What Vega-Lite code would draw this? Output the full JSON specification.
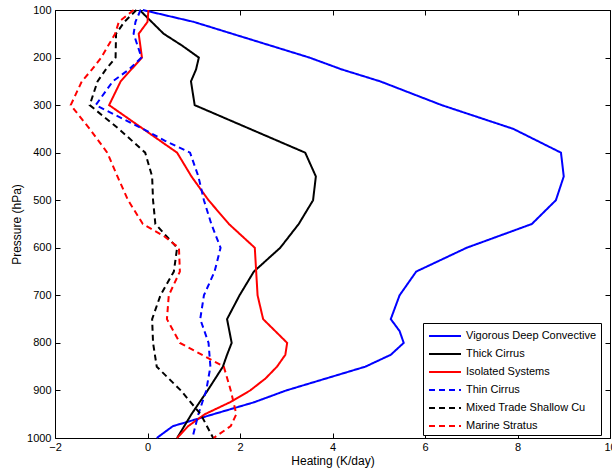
{
  "$schema": "https://vega.github.io/schema/vega-lite/v6.json",
  "width": 555,
  "height": 428,
  "autosize": {"type": "none"},
  "padding": {"left": 55, "top": 10, "right": 2, "bottom": 32},
  "config": {
    "font": "Liberation Sans",
    "view": {"stroke": "black", "strokeWidth": 1},
    "axis": {
      "grid": false,
      "domain": false,
      "tickColor": "black",
      "tickSize": -5,
      "labelFlush": false,
      "labelOverlap": false,
      "labelColor": "black",
      "labelFontSize": 11,
      "labelFont": "Liberation Sans",
      "titleFont": "Liberation Sans",
      "titleFontSize": 12,
      "titleFontWeight": "normal",
      "titleColor": "black"
    },
    "legend": {
      "orient": "none",
      "legendX": 368,
      "legendY": 313,
      "strokeColor": "black",
      "fillColor": "white",
      "padding": 4,
      "cornerRadius": 0,
      "symbolType": "M-2,0H2",
      "symbolSize": 256,
      "symbolOffset": 9,
      "symbolStrokeWidth": 2,
      "labelFont": "Liberation Sans",
      "labelFontSize": 11,
      "labelColor": "black",
      "labelOffset": 12,
      "rowPadding": 4
    }
  },
  "data": {
    "values": [
      {"s": "Vigorous Deep Convective", "p": 100, "h": -0.1},
      {"s": "Vigorous Deep Convective", "p": 125, "h": 1.0},
      {"s": "Vigorous Deep Convective", "p": 200, "h": 3.5},
      {"s": "Vigorous Deep Convective", "p": 225, "h": 4.2},
      {"s": "Vigorous Deep Convective", "p": 250, "h": 5.03},
      {"s": "Vigorous Deep Convective", "p": 300, "h": 6.36},
      {"s": "Vigorous Deep Convective", "p": 350, "h": 7.91},
      {"s": "Vigorous Deep Convective", "p": 400, "h": 8.94},
      {"s": "Vigorous Deep Convective", "p": 450, "h": 9.0},
      {"s": "Vigorous Deep Convective", "p": 500, "h": 8.83},
      {"s": "Vigorous Deep Convective", "p": 550, "h": 8.31},
      {"s": "Vigorous Deep Convective", "p": 600, "h": 6.9},
      {"s": "Vigorous Deep Convective", "p": 650, "h": 5.81},
      {"s": "Vigorous Deep Convective", "p": 700, "h": 5.45},
      {"s": "Vigorous Deep Convective", "p": 750, "h": 5.26},
      {"s": "Vigorous Deep Convective", "p": 775, "h": 5.45},
      {"s": "Vigorous Deep Convective", "p": 800, "h": 5.54},
      {"s": "Vigorous Deep Convective", "p": 825, "h": 5.26},
      {"s": "Vigorous Deep Convective", "p": 850, "h": 4.71},
      {"s": "Vigorous Deep Convective", "p": 900, "h": 3.0},
      {"s": "Vigorous Deep Convective", "p": 925, "h": 2.3},
      {"s": "Vigorous Deep Convective", "p": 975, "h": 0.55},
      {"s": "Vigorous Deep Convective", "p": 1000, "h": 0.2},

      {"s": "Thick Cirrus", "p": 100, "h": -0.17},
      {"s": "Thick Cirrus", "p": 150, "h": 0.35},
      {"s": "Thick Cirrus", "p": 175, "h": 0.75},
      {"s": "Thick Cirrus", "p": 200, "h": 1.11},
      {"s": "Thick Cirrus", "p": 225, "h": 1.05},
      {"s": "Thick Cirrus", "p": 250, "h": 0.94},
      {"s": "Thick Cirrus", "p": 300, "h": 1.02},
      {"s": "Thick Cirrus", "p": 400, "h": 3.41},
      {"s": "Thick Cirrus", "p": 450, "h": 3.64},
      {"s": "Thick Cirrus", "p": 500, "h": 3.58},
      {"s": "Thick Cirrus", "p": 550, "h": 3.27},
      {"s": "Thick Cirrus", "p": 600, "h": 2.87},
      {"s": "Thick Cirrus", "p": 650, "h": 2.3},
      {"s": "Thick Cirrus", "p": 700, "h": 1.99},
      {"s": "Thick Cirrus", "p": 750, "h": 1.72},
      {"s": "Thick Cirrus", "p": 800, "h": 1.82},
      {"s": "Thick Cirrus", "p": 825, "h": 1.72},
      {"s": "Thick Cirrus", "p": 850, "h": 1.63},
      {"s": "Thick Cirrus", "p": 900, "h": 1.3},
      {"s": "Thick Cirrus", "p": 950, "h": 0.95},
      {"s": "Thick Cirrus", "p": 1000, "h": 0.64},

      {"s": "Isolated Systems", "p": 100, "h": 0.02},
      {"s": "Isolated Systems", "p": 125, "h": 0.0},
      {"s": "Isolated Systems", "p": 150, "h": -0.19},
      {"s": "Isolated Systems", "p": 200, "h": -0.12},
      {"s": "Isolated Systems", "p": 250, "h": -0.58},
      {"s": "Isolated Systems", "p": 300, "h": -0.83},
      {"s": "Isolated Systems", "p": 400, "h": 0.64},
      {"s": "Isolated Systems", "p": 450, "h": 0.95},
      {"s": "Isolated Systems", "p": 500, "h": 1.32},
      {"s": "Isolated Systems", "p": 550, "h": 1.76},
      {"s": "Isolated Systems", "p": 600, "h": 2.32},
      {"s": "Isolated Systems", "p": 700, "h": 2.38},
      {"s": "Isolated Systems", "p": 750, "h": 2.5},
      {"s": "Isolated Systems", "p": 800, "h": 3.02},
      {"s": "Isolated Systems", "p": 825, "h": 2.98},
      {"s": "Isolated Systems", "p": 850, "h": 2.8},
      {"s": "Isolated Systems", "p": 875, "h": 2.55},
      {"s": "Isolated Systems", "p": 900, "h": 2.22},
      {"s": "Isolated Systems", "p": 925, "h": 1.78},
      {"s": "Isolated Systems", "p": 950, "h": 1.24},
      {"s": "Isolated Systems", "p": 975, "h": 0.88},
      {"s": "Isolated Systems", "p": 1000, "h": 0.64},

      {"s": "Thin Cirrus", "p": 100, "h": -0.15},
      {"s": "Thin Cirrus", "p": 125, "h": -0.26},
      {"s": "Thin Cirrus", "p": 150, "h": -0.3},
      {"s": "Thin Cirrus", "p": 200, "h": -0.13},
      {"s": "Thin Cirrus", "p": 225, "h": -0.4},
      {"s": "Thin Cirrus", "p": 250, "h": -0.75},
      {"s": "Thin Cirrus", "p": 300, "h": -1.12},
      {"s": "Thin Cirrus", "p": 350, "h": -0.1},
      {"s": "Thin Cirrus", "p": 375, "h": 0.38},
      {"s": "Thin Cirrus", "p": 400, "h": 0.92},
      {"s": "Thin Cirrus", "p": 450, "h": 1.1},
      {"s": "Thin Cirrus", "p": 500, "h": 1.22},
      {"s": "Thin Cirrus", "p": 550, "h": 1.38},
      {"s": "Thin Cirrus", "p": 600, "h": 1.58},
      {"s": "Thin Cirrus", "p": 650, "h": 1.45},
      {"s": "Thin Cirrus", "p": 700, "h": 1.22},
      {"s": "Thin Cirrus", "p": 750, "h": 1.14},
      {"s": "Thin Cirrus", "p": 800, "h": 1.32},
      {"s": "Thin Cirrus", "p": 850, "h": 1.36},
      {"s": "Thin Cirrus", "p": 900, "h": 1.27},
      {"s": "Thin Cirrus", "p": 950, "h": 1.1},
      {"s": "Thin Cirrus", "p": 1000, "h": 0.97},

      {"s": "Mixed Trade Shallow Cu", "p": 100, "h": -0.24},
      {"s": "Mixed Trade Shallow Cu", "p": 125, "h": -0.5},
      {"s": "Mixed Trade Shallow Cu", "p": 150, "h": -0.68},
      {"s": "Mixed Trade Shallow Cu", "p": 200, "h": -0.69},
      {"s": "Mixed Trade Shallow Cu", "p": 225, "h": -0.9},
      {"s": "Mixed Trade Shallow Cu", "p": 250, "h": -1.08},
      {"s": "Mixed Trade Shallow Cu", "p": 300, "h": -1.25},
      {"s": "Mixed Trade Shallow Cu", "p": 350, "h": -0.62},
      {"s": "Mixed Trade Shallow Cu", "p": 400, "h": -0.05},
      {"s": "Mixed Trade Shallow Cu", "p": 450, "h": 0.1},
      {"s": "Mixed Trade Shallow Cu", "p": 500, "h": 0.12},
      {"s": "Mixed Trade Shallow Cu", "p": 550, "h": 0.17},
      {"s": "Mixed Trade Shallow Cu", "p": 600, "h": 0.64},
      {"s": "Mixed Trade Shallow Cu", "p": 650, "h": 0.57},
      {"s": "Mixed Trade Shallow Cu", "p": 700, "h": 0.28},
      {"s": "Mixed Trade Shallow Cu", "p": 750, "h": 0.1},
      {"s": "Mixed Trade Shallow Cu", "p": 800, "h": 0.12},
      {"s": "Mixed Trade Shallow Cu", "p": 850, "h": 0.2},
      {"s": "Mixed Trade Shallow Cu", "p": 900, "h": 0.72},
      {"s": "Mixed Trade Shallow Cu", "p": 950, "h": 1.15},
      {"s": "Mixed Trade Shallow Cu", "p": 1000, "h": 1.42},

      {"s": "Marine Stratus", "p": 100, "h": -0.3},
      {"s": "Marine Stratus", "p": 125, "h": -0.62},
      {"s": "Marine Stratus", "p": 150, "h": -0.7},
      {"s": "Marine Stratus", "p": 200, "h": -1.0},
      {"s": "Marine Stratus", "p": 225, "h": -1.2},
      {"s": "Marine Stratus", "p": 250, "h": -1.42},
      {"s": "Marine Stratus", "p": 300, "h": -1.66},
      {"s": "Marine Stratus", "p": 350, "h": -1.25},
      {"s": "Marine Stratus", "p": 400, "h": -0.87},
      {"s": "Marine Stratus", "p": 450, "h": -0.65},
      {"s": "Marine Stratus", "p": 500, "h": -0.42},
      {"s": "Marine Stratus", "p": 550, "h": -0.1},
      {"s": "Marine Stratus", "p": 575, "h": 0.35},
      {"s": "Marine Stratus", "p": 600, "h": 0.68},
      {"s": "Marine Stratus", "p": 650, "h": 0.7},
      {"s": "Marine Stratus", "p": 700, "h": 0.46},
      {"s": "Marine Stratus", "p": 750, "h": 0.42},
      {"s": "Marine Stratus", "p": 800, "h": 0.7},
      {"s": "Marine Stratus", "p": 850, "h": 1.65},
      {"s": "Marine Stratus", "p": 900, "h": 1.8},
      {"s": "Marine Stratus", "p": 950, "h": 1.92},
      {"s": "Marine Stratus", "p": 975, "h": 1.8},
      {"s": "Marine Stratus", "p": 1000, "h": 1.43}
    ]
  },
  "layer": [
    {
      "mark": {"type": "line", "strokeWidth": 2},
      "encoding": {
        "x": {
          "field": "h", "type": "quantitative",
          "scale": {"domain": [-2, 10], "nice": false, "zero": false},
          "axis": {"values": [-2, 0, 2, 4, 6, 8, 10], "title": "Heating (K/day)", "labelPadding": 8, "titlePadding": 3}
        },
        "y": {
          "field": "p", "type": "quantitative",
          "scale": {"domain": [100, 1000], "reverse": true, "nice": false, "zero": false},
          "axis": {"values": [100, 200, 300, 400, 500, 600, 700, 800, 900, 1000], "format": "d", "title": "Pressure (hPa)", "labelPadding": 9, "titlePadding": 3}
        },
        "color": {
          "field": "s", "type": "nominal", "title": null,
          "scale": {
            "domain": ["Vigorous Deep Convective", "Thick Cirrus", "Isolated Systems", "Thin Cirrus", "Mixed Trade Shallow Cu", "Marine Stratus"],
            "range": ["#0000ff", "#000000", "#ff0000", "#0000ff", "#000000", "#ff0000"]
          }
        },
        "strokeDash": {
          "field": "s", "type": "nominal", "title": null,
          "scale": {
            "domain": ["Vigorous Deep Convective", "Thick Cirrus", "Isolated Systems", "Thin Cirrus", "Mixed Trade Shallow Cu", "Marine Stratus"],
            "range": [[1, 0], [1, 0], [1, 0], [6, 4], [6, 4], [6, 4]]
          }
        },
        "order": {"field": "p", "type": "quantitative"}
      }
    },
    {
      "mark": {"type": "point", "opacity": 0},
      "encoding": {
        "x": {"field": "h", "type": "quantitative", "axis": {"orient": "top", "labels": false, "title": null, "values": [-2, 0, 2, 4, 6, 8, 10]}},
        "y": {"field": "p", "type": "quantitative", "axis": {"orient": "right", "labels": false, "title": null, "values": [100, 200, 300, 400, 500, 600, 700, 800, 900, 1000]}}
      }
    }
  ],
  "resolve": {"axis": {"x": "independent", "y": "independent"}}
}
